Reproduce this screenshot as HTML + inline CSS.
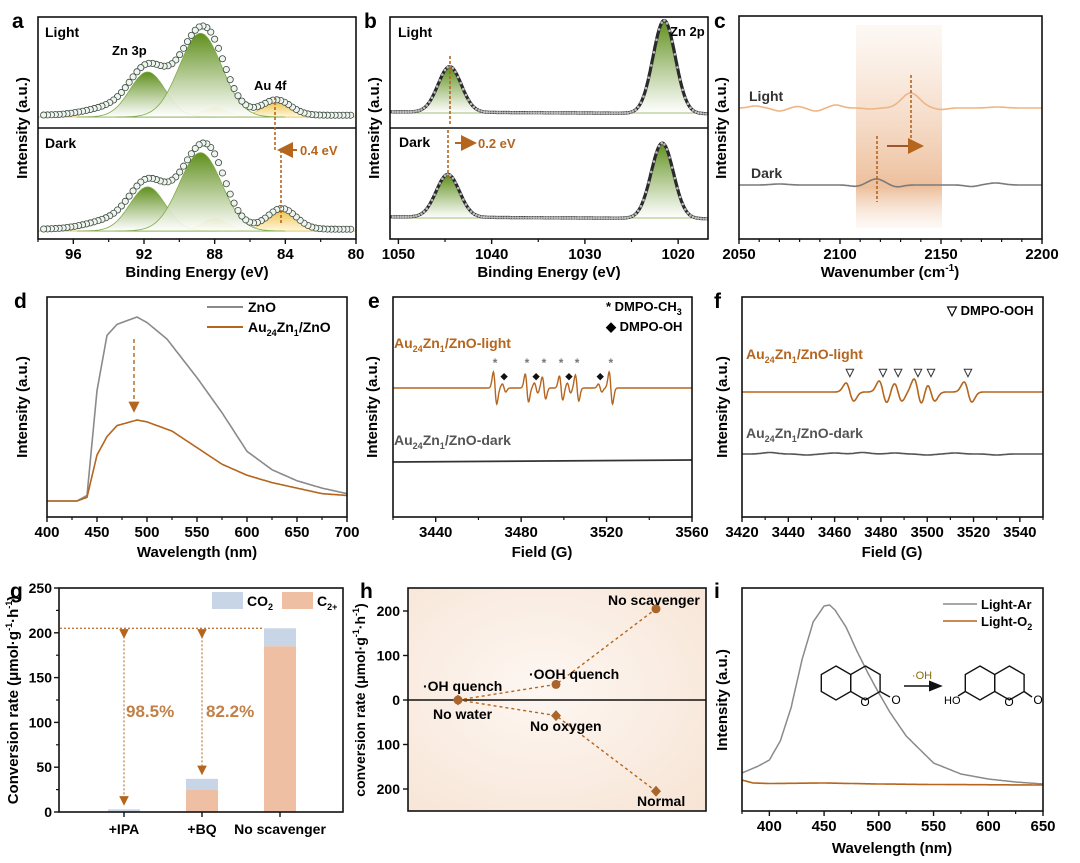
<!DOCTYPE html>
<html><head><meta charset="utf-8"><style>
html,body{margin:0;padding:0;background:#fff}
svg{display:block;font-family:"Liberation Sans",Arial,sans-serif;font-weight:bold}
</style></head><body>
<svg id="fig" width="1080" height="863" viewBox="0 0 1080 863" xmlns="http://www.w3.org/2000/svg">
<defs>
<linearGradient id="gGreen" x1="0" y1="0" x2="0" y2="1"><stop offset="0" stop-color="#5f8f1c"/><stop offset="1" stop-color="#ffffff" stop-opacity="0.9"/></linearGradient>
<linearGradient id="gGold" x1="0" y1="0" x2="0" y2="1"><stop offset="0" stop-color="#efc24a"/><stop offset="1" stop-color="#fff8e0"/></linearGradient>
<linearGradient id="gBand" x1="0" y1="0" x2="0" y2="1"><stop offset="0" stop-color="#f3d2b8" stop-opacity="0.15"/><stop offset="0.8" stop-color="#eab48b" stop-opacity="0.85"/><stop offset="1" stop-color="#f7e1d0" stop-opacity="0.2"/></linearGradient>
<radialGradient id="gH" cx="0.45" cy="0.45" r="0.8"><stop offset="0" stop-color="#fdf7f2"/><stop offset="1" stop-color="#f7e3d3"/></radialGradient>
<marker id="arr" markerWidth="8" markerHeight="8" refX="6" refY="4" orient="auto"><path d="M0,0 L8,4 L0,8 z" fill="#b5651d"/></marker>
<marker id="arrK" markerWidth="10" markerHeight="8" refX="8" refY="4" orient="auto"><path d="M0,0 L10,4 L0,8 z" fill="#111"/></marker>
</defs>
<text x="12" y="28" font-size="21">a</text>
<text x="364" y="28" font-size="21">b</text>
<text x="714" y="28" font-size="21">c</text>
<text x="14" y="308" font-size="21">d</text>
<text x="368" y="308" font-size="21">e</text>
<text x="714" y="308" font-size="21">f</text>
<text x="10" y="598" font-size="21">g</text>
<text x="360" y="598" font-size="21">h</text>
<text x="714" y="598" font-size="21">i</text>
<rect x="856" y="25" width="86" height="203" fill="url(#gBand)"/>
<rect x="408" y="588" width="298" height="223" fill="url(#gH)"/>
<g id="layer"></g>
<text transform="translate(27,128) rotate(-90)" text-anchor="middle" font-size="15">Intensity (a.u.)</text>
<text x="197" y="277" text-anchor="middle" font-size="15">Binding Energy (eV)</text>
<text transform="translate(379,128) rotate(-90)" text-anchor="middle" font-size="15">Intensity (a.u.)</text>
<text x="549" y="277" text-anchor="middle" font-size="15">Binding Energy (eV)</text>
<text transform="translate(726,128) rotate(-90)" text-anchor="middle" font-size="15">Intensity (a.u.)</text>
<text x="890" y="277" text-anchor="middle" font-size="15">Wavenumber (cm<tspan dy="-6" font-size="10">-1</tspan><tspan dy="6">)</tspan></text>
<text transform="translate(27,407) rotate(-90)" text-anchor="middle" font-size="15">Intensity (a.u.)</text>
<text x="197" y="557" text-anchor="middle" font-size="15">Wavelength (nm)</text>
<text transform="translate(377,407) rotate(-90)" text-anchor="middle" font-size="15">Intensity (a.u.)</text>
<text x="542" y="557" text-anchor="middle" font-size="15">Field (G)</text>
<text transform="translate(727,407) rotate(-90)" text-anchor="middle" font-size="15">Intensity (a.u.)</text>
<text x="892" y="557" text-anchor="middle" font-size="15">Field (G)</text>
<text transform="translate(18,700) rotate(-90)" text-anchor="middle" font-size="15">Conversion rate (μmol·g<tspan dy="-6" font-size="9">-1</tspan><tspan dy="6">·h</tspan><tspan dy="-6" font-size="9">-1</tspan><tspan dy="6">)</tspan></text>
<text transform="translate(365,700) rotate(-90)" text-anchor="middle" font-size="14">conversion rate (μmol·g<tspan dy="-6" font-size="9">-1</tspan><tspan dy="6">·h</tspan><tspan dy="-6" font-size="9">-1</tspan><tspan dy="6">)</tspan></text>
<text transform="translate(727,700) rotate(-90)" text-anchor="middle" font-size="15">Intensity (a.u.)</text>
<text x="892" y="853" text-anchor="middle" font-size="15">Wavelength (nm)</text>
<text x="45" y="37" font-size="14">Light</text>
<text x="45" y="148" font-size="14">Dark</text>
<text x="112" y="55" font-size="13">Zn 3p</text>
<text x="254" y="90" font-size="13">Au 4f</text>
<text x="300" y="155" font-size="13" fill="#b5651d">0.4 eV</text>
<line x1="297" y1="150" x2="281" y2="150" stroke="#b5651d" stroke-width="2" marker-end="url(#arr)"/>
<line x1="275" y1="97" x2="275" y2="150" stroke="#b5651d" stroke-width="1.6" stroke-dasharray="3,2"/>
<line x1="281" y1="150" x2="281" y2="224" stroke="#b5651d" stroke-width="1.6" stroke-dasharray="3,2"/>
<text x="398" y="37" font-size="14">Light</text>
<text x="399" y="147" font-size="14">Dark</text>
<text x="670" y="36" font-size="13">Zn 2p</text>
<text x="478" y="148" font-size="13" fill="#b5651d">0.2 eV</text>
<line x1="455" y1="143" x2="473" y2="143" stroke="#b5651d" stroke-width="2" marker-end="url(#arr)"/>
<line x1="450" y1="56" x2="450" y2="125" stroke="#b5651d" stroke-width="1.6" stroke-dasharray="3,2"/>
<line x1="448" y1="130" x2="448" y2="178" stroke="#b5651d" stroke-width="1.6" stroke-dasharray="3,2"/>
<text x="749" y="101" font-size="14" fill="#333">Light</text>
<text x="751" y="178" font-size="14" fill="#333">Dark</text>
<line x1="911" y1="75" x2="911" y2="138" stroke="#b5651d" stroke-width="1.6" stroke-dasharray="3,2"/>
<line x1="877" y1="136" x2="877" y2="202" stroke="#b5651d" stroke-width="1.6" stroke-dasharray="3,2"/>
<line x1="887" y1="146" x2="920" y2="146" stroke="#a0552a" stroke-width="2" marker-end="url(#arr)"/>
<line x1="207" y1="307" x2="243" y2="307" stroke="#8a8a8a" stroke-width="2"/>
<text x="248" y="312" font-size="14">ZnO</text>
<line x1="207" y1="327" x2="243" y2="327" stroke="#b5651d" stroke-width="2"/>
<text x="248" y="332" font-size="14">Au<tspan font-size="9" dy="4">24</tspan><tspan dy="-4">Zn</tspan><tspan font-size="9" dy="4">1</tspan><tspan dy="-4">/ZnO</tspan></text>
<line x1="134" y1="339" x2="134" y2="410" stroke="#b5651d" stroke-width="1.4" stroke-dasharray="4,3" marker-end="url(#arr)"/>
<text x="606" y="311" font-size="13">* DMPO-CH<tspan font-size="9" dy="4">3</tspan></text>
<text x="606" y="331" font-size="13">◆ DMPO-OH</text>
<text x="394" y="348" font-size="14" fill="#b5651d">Au<tspan font-size="9" dy="4">24</tspan><tspan dy="-4">Zn</tspan><tspan font-size="9" dy="4">1</tspan><tspan dy="-4">/ZnO-light</tspan></text>
<text x="394" y="445" font-size="14" fill="#555">Au<tspan font-size="9" dy="4">24</tspan><tspan dy="-4">Zn</tspan><tspan font-size="9" dy="4">1</tspan><tspan dy="-4">/ZnO-dark</tspan></text>
<text x="947" y="315" font-size="13">▽ DMPO-OOH</text>
<text x="746" y="359" font-size="14" fill="#b5651d">Au<tspan font-size="9" dy="4">24</tspan><tspan dy="-4">Zn</tspan><tspan font-size="9" dy="4">1</tspan><tspan dy="-4">/ZnO-light</tspan></text>
<text x="746" y="438" font-size="14" fill="#555">Au<tspan font-size="9" dy="4">24</tspan><tspan dy="-4">Zn</tspan><tspan font-size="9" dy="4">1</tspan><tspan dy="-4">/ZnO-dark</tspan></text>
<rect x="212" y="592" width="31" height="17" fill="#c8d5e7"/>
<text x="247" y="606" font-size="14">CO<tspan font-size="9" dy="4">2</tspan></text>
<rect x="282" y="592" width="31" height="17" fill="#eebfa2"/>
<text x="317" y="606" font-size="14">C<tspan font-size="9" dy="4">2+</tspan></text>
<text x="126" y="717" font-size="17" fill="#c08048">98.5%</text>
<text x="206" y="717" font-size="17" fill="#c08048">82.2%</text>
<text x="423" y="691" font-size="14">·OH quench</text>
<text x="433" y="719" font-size="14">No water</text>
<text x="529" y="679" font-size="14">·OOH quench</text>
<text x="530" y="731" font-size="14">No oxygen</text>
<text x="608" y="605" font-size="14">No scavenger</text>
<text x="637" y="806" font-size="14">Normal</text>
<line x1="943" y1="604" x2="977" y2="604" stroke="#8a8a8a" stroke-width="1.6"/>
<text x="981" y="609" font-size="13">Light-Ar</text>
<line x1="943" y1="621" x2="977" y2="621" stroke="#b5651d" stroke-width="1.6"/>
<text x="981" y="626" font-size="13">Light-O<tspan font-size="9" dy="4">2</tspan></text>
<g fill="none" stroke="#111" stroke-width="1.4">
<polygon points="836,666 850.7,674.5 850.7,691.5 836,700 821.3,691.5 821.3,674.5"/>
<polygon points="865.4,666 880.1,674.5 880.1,691.5 865.4,700 850.7,691.5 850.7,674.5"/>
<line x1="880.1" y1="691.5" x2="890" y2="697"/>
<line x1="904" y1="686" x2="940" y2="686" marker-end="url(#arrK)"/>
<polygon points="980,666 994.7,674.5 994.7,691.5 980,700 965.3,691.5 965.3,674.5"/>
<polygon points="1009.4,666 1024.1,674.5 1024.1,691.5 1009.4,700 994.7,691.5 994.7,674.5"/>
<line x1="1024.1" y1="691.5" x2="1032" y2="697"/>
<line x1="965.3" y1="691.5" x2="958" y2="696"/>
</g>
<text x="865" y="706" text-anchor="middle" font-size="12" font-weight="normal">O</text>
<text x="896" y="704" text-anchor="middle" font-size="12" font-weight="normal">O</text>
<text x="922" y="679" text-anchor="middle" font-size="11" font-weight="normal" fill="#8a6a10">·OH</text>
<text x="1009" y="706" text-anchor="middle" font-size="12" font-weight="normal">O</text>
<text x="1038" y="704" text-anchor="middle" font-size="12" font-weight="normal">O</text>
<text x="944" y="704" font-size="11" font-weight="normal">HO</text>
</svg>
<script>
const aLightGreen=[[91.8,50,1.0],[88.8,93,1.2]];
const aLightGold=[[88.0,10,0.7],[84.5,17,0.8]];
const aLightTail=[[93.8,9,1.4]];
const aDarkGreen=[[91.8,49,1.0],[88.8,87,1.2]];
const aDarkGold=[[88.0,14,0.7],[84.2,23,0.8]];
const aDarkTail=[[93.8,10,1.4]];
const aTicks=[96,92,88,84,80];
const bLightPeaks=[[1044.5,49,1.25],[1021.5,100,1.2]];
const bDarkPeaks=[[1044.7,46,1.25],[1021.7,81,1.2]];
const bTicks=[1050,1040,1030,1020];
const cLightPeaks=[[2058,2,3],[2070,-3,3],[2079,1.5,2.5],[2088,-3,3],[2098,3,3],[2115,-1,3],[2135,15,4.5],[2150,-1.5,3],[2178,1,4]];
const cDarkPeaks=[[2070,1,4],[2108,-1.5,3],[2118,6,4],[2128,-2,3],[2165,-1.5,3],[2177,2,4]];
const cTicks=[2050,2100,2150,2200];
const dWave=[400,430,440,450,460,470,480,490,500,520,550,575,600,625,650,675,700];
const dZnO=[0,0,3,60,90,96,98,100,97,88,67,48,27,17,11,7,4];
const dWaveAu=[400,430,440,450,460,470,490,500,525,550,575,600,625,650,675,700];
const dAu=[0,0,2,25,35,41,44,43,38,29,20,14,10,7,4,3];
const dTicks=[400,450,500,550,600,650,700];
const eCH3=[3467.8,3482.7,3490.7,3498.7,3506.2,3522.0];
const eCH3Amp=[16,14,11,12,13,16];
const eOH=[3472.0,3487.0,3502.4,3517.0];
const eOHAmp=[4,5,5,4];
const eTicks=[3440,3480,3520,3560];
const fOOH=[3466.6,3480.9,3487.4,3496.0,3501.6,3517.6];
const fOOHAmp=[9,11,9,13,9,10];
const fDarkWig=[[3432,1.5],[3448,-1],[3460,1],[3472,1.5],[3486,1],[3500,-1],[3512,1],[3530,-1]];
const fTicks=[3420,3440,3460,3480,3500,3520,3540];
const gCats=['+IPA','+BQ','No scavenger'];
const gCO2=[3,12,20];
const gC2=[0,25,185];
const gTicks=[0,50,100,150,200,250];
const hUpper=[0,35,205];
const hLower=[0,-35,-205];
const hTicks=[200,100,0,-100,-200];
const hTickLabels=['200','100','0','100','200'];
const iWave=[375,390,400,410,420,430,440,450,455,460,470,480,490,500,510,525,550,575,600,625,650];
const iAr=[11,18,24,43,77,125,162,178,179,174,157,133,111,91,72,48,21,10,5,2,0];
const iWaveO2=[375,385,400,450,500,550,650];
const iO2=[4,1,0.5,1,0,-0.5,-1];
const iTicks=[400,450,500,550,600,650];

const NS='http://www.w3.org/2000/svg';
const layer=document.getElementById('layer');
function mk(tag,attrs,name,parent){
  const el=document.createElementNS(NS,tag);
  for(const k in attrs) el.setAttribute(k,attrs[k]);
  
  
  (parent||layer).appendChild(el);return el;}
function lin(d0,d1,r0,r1){return v=>r0+(v-d0)/(d1-d0)*(r1-r0);}
function gsum(peaks,x){let s=0;for(const p of peaks)s+=p[1]*Math.exp(-((x-p[0])**2)/(2*p[2]*p[2]));return s;}
function deriv(cs,amps,s,x){let t=0;for(let i=0;i<cs.length;i++){const u=(x-cs[i])/s;t+=-amps[i]*u*Math.exp(0.5-u*u/2);}return t;}
function pathFrom(pts){return pts.map((p,i)=>(i?'L':'M')+p[0].toFixed(1)+','+p[1].toFixed(1)).join('');}
function box(x0,y0,x1,y1,name){mk('rect',{x:x0,y:y0,width:x1-x0,height:y1-y0,fill:'none',stroke:'#111','stroke-width':1.6},name);}
function xTicks(sx,ticks,y,name,minorStep,dom){
  for(const t of ticks){mk('line',{x1:sx(t),x2:sx(t),y1:y,y2:y+5,stroke:'#111','stroke-width':1.4},name+'-tick');
    const tx=mk('text',{x:sx(t),y:y+20,'text-anchor':'middle','font-size':15},name+'-tick-label');tx.textContent=String(t);}
  if(minorStep){for(let v=dom[0];v<=dom[1]+1e-9;v+=minorStep){if(ticks.some(t=>Math.abs(t-v)<1e-6))continue;
    mk('line',{x1:sx(v),x2:sx(v),y1:y,y2:y+3,stroke:'#111','stroke-width':1.2},name+'-minor-tick');}}
}
function curve(xs,fn,sx,sy,attrs,name){const pts=xs.map(x=>[sx(x),sy(fn(x))]);return mk('path',Object.assign({d:pathFrom(pts),fill:'none'},attrs),name);}
function range(a,b,st){const r=[];for(let v=a;v<=b+1e-9;v+=st)r.push(v);return r;}
function interp(xs,ys,x){if(x<=xs[0])return ys[0];for(let i=1;i<xs.length;i++)if(x<=xs[i]){const t=(x-xs[i-1])/(xs[i]-xs[i-1]);return ys[i-1]+t*(ys[i]-ys[i-1]);}return ys[ys.length-1];}
function areaPeak(p,sx,sy,fill,name){const xs=range(p[0]-4*p[2],p[0]+4*p[2],0.05);
  const pts=xs.map(x=>[sx(x),sy(gsum([p],x))]);
  mk('path',{d:pathFrom(pts)+'Z',fill:fill,stroke:fill==='url(#gGold)'?'#e8c35a':'#7faa4a','stroke-width':0.8},name);}

(function(){
  const sx=lin(98,80,38,356);
  const sub=[[aLightGreen,aLightGold,aLightTail,lin(0,100,117,27),'light'],[aDarkGreen,aDarkGold,aDarkTail,lin(0,100,231,141),'dark']];
  for(const [gr,go,tl,sy,lab] of sub){
    mk('line',{x1:38,x2:356,y1:sy(0),y2:sy(0),stroke:'#f0d27a','stroke-width':1.2},'a-'+lab+'-baseline');
    for(const p of go)areaPeak(p,sx,sy,'url(#gGold)','a-'+lab+'-au-peak');
    for(const p of gr)areaPeak(p,sx,sy,'url(#gGreen)','a-'+lab+'-zn-peak');
    const all=gr.concat(go,tl);
    curve(range(97.9,80.1,-0.05).reverse(),x=>gsum(all,x),sx,sy,{stroke:'#8cc9a4','stroke-width':1.2},'a-'+lab+'-envelope');
    for(const x of range(80.3,97.8,0.22)){mk('circle',{cx:sx(x),cy:sy(gsum(all,x)+2),r:3.1,fill:'#eef4ee',stroke:'#3c4a40','stroke-width':0.8},'a-'+lab+'-data-point');}
  }
  box(38,17,356,239,'a-plot-frame');
  mk('line',{x1:38,x2:356,y1:128,y2:128,stroke:'#111','stroke-width':1.4},'a-divider');
  xTicks(sx,aTicks,239,'a-x',2,[80,98]);
})();
(function(){
  const sx=lin(1050.9,1016.8,390,708);
  const sub=[[bLightPeaks,lin(0,100,113,20),'light'],[bDarkPeaks,lin(0,100,218,125),'dark']];
  for(const [pk,sy,lab] of sub){
    for(const p of pk)areaPeak(p,sx,sy,'url(#gGreen)','b-'+lab+'-peak');
    curve(range(1016.8,1050.9,0.05),x=>gsum(pk,x)+(x-1030)*0.06,sx,sy,{stroke:'#2a2a2a','stroke-width':3.2},'b-'+lab+'-data');
    for(const x of range(1017,1050.8,0.28)){mk('circle',{cx:sx(x),cy:sy(gsum(pk,x)+(x-1030)*0.06),r:1.3,fill:'#bbb',stroke:'none'},'b-'+lab+'-data-point');}
  }
  box(390,17,708,239,'b-plot-frame');
  mk('line',{x1:390,x2:708,y1:128,y2:128,stroke:'#111','stroke-width':1.4},'b-divider');
  xTicks(sx,bTicks,239,'b-x',5,[1020,1050]);
})();
(function(){
  const sx=lin(2050,2200,739,1042);
  curve(range(2050,2200,0.5),x=>gsum(cLightPeaks,x),sx,lin(0,10,108,98),{stroke:'#eeb584','stroke-width':1.6},'c-light-spectrum');
  curve(range(2050,2200,0.5),x=>gsum(cDarkPeaks,x),sx,lin(0,10,185,175),{stroke:'#7a7a7a','stroke-width':1.6},'c-dark-spectrum');
  box(739,16,1042,239,'c-plot-frame');
  xTicks(sx,cTicks,239,'c-x',10,[2050,2200]);
})();
(function(){
  const sx=lin(400,700,47,347), sy=lin(0,100,501,317);
  curve(range(400,700,1),x=>interp(dWave,dZnO,x),sx,sy,{stroke:'#8a8a8a','stroke-width':1.6},'d-zno-spectrum');
  curve(range(400,700,1),x=>interp(dWaveAu,dAu,x),sx,sy,{stroke:'#b5651d','stroke-width':1.6},'d-au-spectrum');
  box(47,297,347,517,'d-plot-frame');
  xTicks(sx,dTicks,517,'d-x',25,[400,700]);
})();
(function(){
  const sx=lin(3420,3560,393,692);
  curve(range(3420,3560,0.2),x=>deriv(eCH3,eCH3Amp,0.8,x)+deriv(eOH,eOHAmp,0.8,x),sx,lin(0,10,388,378),{stroke:'#b5651d','stroke-width':1.4},'e-light-spectrum');
  mk('line',{x1:393,x2:692,y1:462,y2:460,stroke:'#333','stroke-width':1.8},'e-dark-spectrum');
  for(const c of eCH3){const t=mk('text',{x:sx(c),y:367,'text-anchor':'middle','font-size':12,fill:'#777'},'e-ch3-marker');t.textContent='*';}
  for(const c of eOH){const t=mk('text',{x:sx(c),y:379,'text-anchor':'middle','font-size':9,fill:'#111'},'e-oh-marker');t.textContent='◆';}
  box(393,297,692,517,'e-plot-frame');
  xTicks(sx,eTicks,517,'e-x',20,[3420,3560]);
})();
(function(){
  const sx=lin(3420,3550,742,1043);
  curve(range(3420,3550,0.25),x=>deriv(fOOH,fOOHAmp,1.7,x),sx,lin(0,10,392,382),{stroke:'#b5651d','stroke-width':1.6},'f-light-spectrum');
  curve(range(3420,3550,0.5),x=>gsum(fDarkWig.map(w=>[w[0],w[1],3]),x),sx,lin(0,10,454,444),{stroke:'#555','stroke-width':1.6},'f-dark-spectrum');
  for(const c of fOOH){const t=mk('text',{x:sx(c),y:376,'text-anchor':'middle','font-size':11,fill:'#333'},'f-ooh-marker');t.textContent='▽';}
  box(742,297,1043,517,'f-plot-frame');
  xTicks(sx,fTicks,517,'f-x',10,[3420,3550]);
})();
(function(){
  const sy=lin(0,250,812,588); const cx=[124,202,280]; const bw=32;
  for(let i=0;i<gCats.length;i++){
    const tot=gCO2[i]+gC2[i];
    mk('rect',{x:cx[i]-bw/2,y:sy(tot),width:bw,height:sy(gC2[i])-sy(tot),fill:'#c8d5e7'},'g-bar-co2-'+i);
    mk('rect',{x:cx[i]-bw/2,y:sy(gC2[i]),width:bw,height:sy(0)-sy(gC2[i]),fill:'#eebfa2'},'g-bar-c2-'+i);
    mk('line',{x1:cx[i],x2:cx[i],y1:812,y2:817,stroke:'#111','stroke-width':1.4},'g-x-tick');
    const t=mk('text',{x:cx[i],y:834,'text-anchor':'middle','font-size':14},'g-x-tick-label');t.textContent=gCats[i];
  }
  const ref=gCO2[2]+gC2[2];
  mk('line',{x1:60,x2:264,y1:sy(ref),y2:sy(ref),stroke:'#c07a3e','stroke-width':1.4,'stroke-dasharray':'2,2'},'g-reference-line');
  for(let i=0;i<2;i++){
    mk('line',{x1:cx[i],x2:cx[i],y1:sy(ref)+8,y2:sy(gCO2[i]+gC2[i])-6,stroke:'#c07a3e','stroke-width':1.2,'stroke-dasharray':'2,2','marker-end':'url(#arr)','marker-start':'url(#arr)'},'g-drop-arrow');
  }
  box(59,588,343,812,'g-plot-frame');
  for(const t of gTicks){mk('line',{x1:54,x2:59,y1:sy(t),y2:sy(t),stroke:'#111','stroke-width':1.4},'g-y-tick');
    const tx=mk('text',{x:52,y:sy(t)+5,'text-anchor':'end','font-size':14},'g-y-tick-label');tx.textContent=String(t);}
  for(let v=25;v<250;v+=50)mk('line',{x1:56,x2:59,y1:sy(v),y2:sy(v),stroke:'#111','stroke-width':1.2},'g-y-minor-tick');
})();
(function(){
  const sy=lin(0,200,700,611); const px=[458,556,656];
  mk('line',{x1:408,x2:706,y1:sy(0),y2:sy(0),stroke:'#111','stroke-width':1.6},'h-zero-line');
  for(const ser of [[hUpper,'upper'],[hLower,'lower']]){
    const pts=ser[0].map((v,i)=>[px[i],sy(v)]);
    mk('path',{d:pathFrom(pts),fill:'none',stroke:'#b5651d','stroke-width':1.4,'stroke-dasharray':'3,3'},'h-'+ser[1]+'-line');
    pts.forEach((p,i)=>{ if(ser[1]==='upper')mk('circle',{cx:p[0],cy:p[1],r:4.5,fill:'#a9652a'},'h-upper-point');
      else mk('path',{d:'M'+p[0]+','+(p[1]-5.5)+'l5,5.5l-5,5.5l-5,-5.5z',fill:'#a9652a'},'h-lower-point');});
  }
  box(408,588,706,811,'h-plot-frame');
  hTicks.forEach((t,i)=>{mk('line',{x1:403,x2:408,y1:sy(t),y2:sy(t),stroke:'#111','stroke-width':1.4},'h-y-tick');
    const tx=mk('text',{x:400,y:sy(t)+5,'text-anchor':'end','font-size':14},'h-y-tick-label');tx.textContent=hTickLabels[i];});
})();
(function(){
  const sx=lin(375,650,742,1043), sy=lin(0,100,784,684);
  curve(range(375,650,1),x=>interp(iWave,iAr,x),sx,sy,{stroke:'#8a8a8a','stroke-width':1.5},'i-ar-spectrum');
  curve(range(375,650,1),x=>interp(iWaveO2,iO2,x),sx,sy,{stroke:'#b5651d','stroke-width':1.6},'i-o2-spectrum');
  box(742,588,1043,811,'i-plot-frame');
  xTicks(sx,iTicks,811,'i-x',25,[375,650]);
})();
</script>
</body></html>
